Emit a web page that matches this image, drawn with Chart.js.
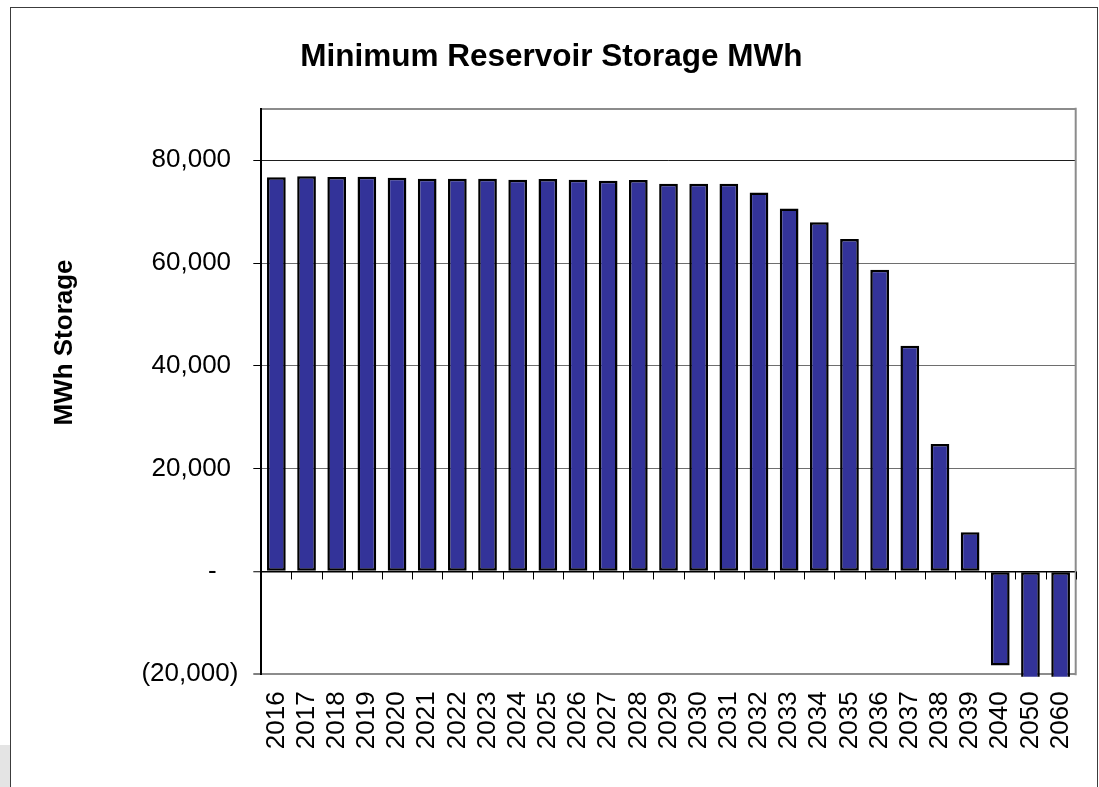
<!DOCTYPE html>
<html>
<head>
<meta charset="utf-8">
<title>Minimum Reservoir Storage MWh</title>
<script src="https://cdn.jsdelivr.net/npm/chart.js@4.4.1/dist/chart.umd.min.js"></script>
<style>
  html, body { margin: 0; padding: 0; background: #fff; }
  #chart { display: block; }
</style>
</head>
<body>
<canvas id="chart" width="1099" height="787"></canvas>
<script>
// Minimum storage per year (MWh)
const years = ['2016', '2017', '2018', '2019', '2020', '2021', '2022', '2023', '2024',
  '2025', '2026', '2027', '2028', '2029', '2030', '2031', '2032', '2033', '2034',
  '2035', '2036', '2037', '2038', '2039', '2040', '2050', '2060'];
const minStorage = [76700, 76900, 76750, 76800, 76600, 76400, 76400, 76400, 76200,
  76350, 76200, 76000, 76150, 75400, 75400, 75400, 73700, 70600, 67950,
  64650, 58700, 43900, 24800, 7650, -18300, -25000, -25000];
const yTicks = [-20000, 0, 20000, 40000, 60000, 80000];
const yMin = -20000;
const yMax = 90000;

const FONT = "'Liberation Sans', Arial, Helvetica, sans-serif";

// accounting style: 80,000 / - / (20,000)
function accounting(v) {
  if (v === 0) return '-   ';
  const s = Math.abs(v).toLocaleString('en-US');
  return v < 0 ? '(' + s + ')' : s + ' ';
}

const frame = {
  id: 'frame',
  beforeDraw(chart) {
    const ctx = chart.ctx;
    ctx.save();
    ctx.fillStyle = '#fff';
    ctx.fillRect(0, 0, chart.width, chart.height);
    ctx.fillStyle = '#e4e4e4';
    ctx.fillRect(0, 745, 10, 42);
    ctx.strokeStyle = '#3c3c3c';
    ctx.lineWidth = 1;
    ctx.strokeRect(10.5, 7.5, 1087, 820);
    ctx.restore();
  }
};

// right plot edge and the category ticks hanging off the zero line
const plotMarks = {
  id: 'plotMarks',
  beforeDatasetsDraw(chart) {
    const {ctx, chartArea, scales: {x, y}} = chart;
    const y0 = y.getPixelForValue(0);
    const half = (x.getPixelForValue(1) - x.getPixelForValue(0)) / 2;
    ctx.save();
    ctx.strokeStyle = '#8c8c8c';
    ctx.lineWidth = 2;
    ctx.beginPath();
    ctx.moveTo(chartArea.right, chartArea.top - 1);
    ctx.lineTo(chartArea.right, chartArea.bottom + 1);
    ctx.stroke();
    ctx.strokeStyle = '#000';
    ctx.lineWidth = 1;
    ctx.beginPath();
    for (let i = 0; i <= years.length; i++) {
      const px = Math.round(x.getPixelForValue(i) - half) + 0.5;
      ctx.moveTo(px, y0);
      ctx.lineTo(px, y0 + 8);
    }
    ctx.stroke();
    ctx.restore();
  }
};

const yTitle = {
  id: 'yTitle',
  afterDraw(chart) {
    const ctx = chart.ctx;
    ctx.save();
    ctx.translate(65, 342.5);
    ctx.rotate(-Math.PI / 2);
    ctx.fillStyle = '#000';
    ctx.font = 'bold 26px ' + FONT;
    ctx.textAlign = 'center';
    ctx.textBaseline = 'middle';
    ctx.fillText('MWh Storage', 0, 0);
    ctx.restore();
  }
};

function gridColor(c) {
  const v = c.tick.value;
  if (v === 0) return '#000';
  if (v === yMin || v === yMax) return '#8c8c8c';
  if (v === 80000) return '#1e1e1e';
  return '#6e6e6e';
}

function gridWidth(c) {
  const v = c.tick.value;
  if (v === yMin || v === yMax) return 2;
  if (v === 0) return 1.5;
  return 1;
}

new Chart(document.getElementById('chart'), {
  type: 'bar',
  data: {
    labels: years,
    datasets: [{
      data: minStorage,
      backgroundColor: '#333399',
      borderColor: '#000',
      borderWidth: 2.5,
      borderSkipped: false,
      barPercentage: 0.62,
      categoryPercentage: 1,
      clip: {left: 5, top: 5, right: 5, bottom: 2.5}
    }]
  },
  options: {
    responsive: false,
    animation: false,
    layout: { padding: { left: 27, right: 23.3, top: 0, bottom: 0 } },
    plugins: {
      legend: { display: false },
      tooltip: { enabled: false },
      title: {
        display: true,
        text: 'Minimum Reservoir Storage MWh',
        color: '#000',
        font: { family: FONT, size: 31.5, weight: 'bold' },
        padding: { top: 38, bottom: 33 }
      }
    },
    scales: {
      x: {
        grid: { display: false, drawTicks: false },
        border: { display: false },
        afterFit(s) {
          s.height = 112.7;
          s.paddingLeft = 0;
          s.paddingRight = 0;
        },
        ticks: {
          autoSkip: false,
          minRotation: 90,
          maxRotation: 90,
          padding: 17,
          color: '#000',
          font: { family: FONT, size: 26 }
        }
      },
      y: {
        min: yMin,
        max: yMax,
        afterBuildTicks(s) {
          s.ticks = yTicks.concat([yMax]).map(v => ({ value: v }));
        },
        afterFit(s) {
          s.width = 234.3;
          s.paddingTop = 0;
          s.paddingBottom = 0;
        },
        border: { display: true, color: '#000', width: 2 },
        grid: {
          color: gridColor,
          lineWidth: gridWidth,
          tickLength: 8,
          tickWidth: 1,
          tickColor: c => c.tick.value === yMax ? 'rgba(0,0,0,0)' : '#000'
        },
        ticks: {
          padding: 15,
          color: '#000',
          font: { family: FONT, size: 26 },
          callback: v => v === yMax ? '' : accounting(v)
        }
      }
    }
  },
  plugins: [frame, plotMarks, yTitle]
});
</script>
</body>
</html>
